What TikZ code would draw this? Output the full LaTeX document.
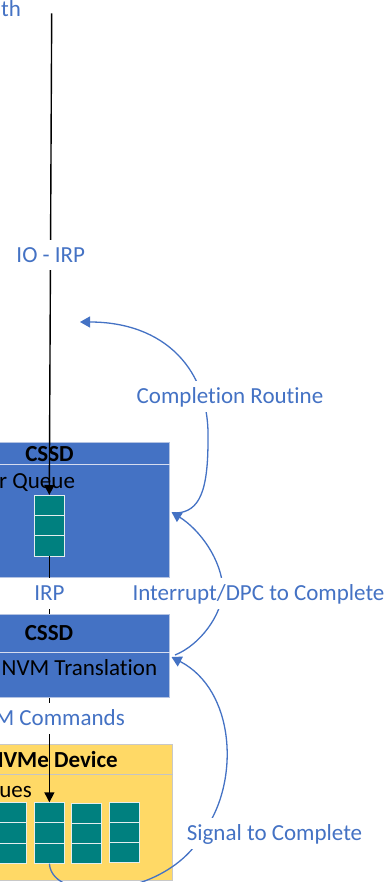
\documentclass[tikz,border=0pt]{standalone}
\usepackage{fontspec}
\setmainfont[Ligatures={NoCommon}]{Carlito}
\usetikzlibrary{arrows.meta,calc}
\definecolor{boxblue}{HTML}{4472C4}
\definecolor{boxedge}{HTML}{B4C3E2}
\definecolor{hdrblue}{HTML}{D6DCEF}
\definecolor{devyellow}{HTML}{FFD966}
\definecolor{devedge}{HTML}{C8C8C8}
\definecolor{devhdr}{HTML}{C4C4C4}
\definecolor{qteal}{HTML}{00807F}
\definecolor{qedge}{HTML}{E4EEEE}
\definecolor{lblblue}{HTML}{4472C4}
\begin{document}
\begin{tikzpicture}[x=1pt,y=-1pt,
  font=\fontsize{23}{28}\selectfont,
  blkbox/.style={draw=boxedge, fill=boxblue, line width=0.8pt, inner sep=0pt},
  devbox/.style={draw=devedge, fill=devyellow, line width=0.8pt, inner sep=0pt},
  queue/.style={draw=qedge, fill=qteal, line width=0.9pt, inner sep=0pt,
                minimum width=30pt, minimum height=60.5pt},
  qsep/.style={qedge, line width=0.9pt},
  hdrtxt/.style={font=\fontsize{23}{28}\selectfont\bfseries, text=black, inner sep=0pt},
  boxtxt/.style={text=black, inner sep=0pt},
  lbl/.style={text=lblblue, fill=white, inner xsep=2pt, inner ysep=6.5pt,
              text height=15.5pt, text depth=2pt},
  flow/.style={black, line width=1.4pt, -{Triangle[length=10pt,width=10pt]}},
  flowplain/.style={black, line width=1.4pt},
  ret/.style={lblblue, line width=1.3pt, -{Triangle[length=10pt,width=11pt]}}
]
\useasboundingbox (0,0) rectangle (388,882);
\clip (0,0) rectangle (388,882);

% boxes
\node[blkbox, minimum width=190pt, minimum height=135pt, anchor=north east] (box1) at (170,441.7) {};
\draw[hdrblue, line width=0.8pt] (-20,464.7) -- (170,464.7);
\node[blkbox, minimum width=190pt, minimum height=83pt, anchor=north east] (box2) at (170,614) {};
\draw[hdrblue, line width=0.8pt] (-20,652) -- (170,652);
\node[devbox, minimum width=193pt, minimum height=136pt, anchor=north east] (box3) at (172.7,744) {};
\draw[devhdr, line width=0.8pt] (-20,774) -- (172.7,774);

% box texts
\node[hdrtxt, anchor=base] (t1) at (49.5,461) {CSSD};
\node[boxtxt, anchor=base west] (t2) at (-1,488) {r Queue};
\node[hdrtxt, anchor=base] (t3) at (49,640) {CSSD};
\node[boxtxt, anchor=base west] (t4) at (1.5,675) {NVM Translation};
\node[hdrtxt, anchor=base east] (t5) at (118,767) {NVMe Device};
\node[boxtxt, anchor=base east] (t6) at (32,797) {ues};

% queues
\node[queue] (q1) at (49.3,525.7) {};
\node[queue] (q2a) at (11.7,833) {};
\node[queue] (q2b) at (49.4,833) {};
\node[queue] (q2c) at (86.7,833.5) {};
\node[queue] (q2d) at (124,832.5) {};
\foreach \q in {q1,q2a,q2b,q2c,q2d}{
  \draw[qsep] ($(\q.north west)!1/3!(\q.south west)$) -- ($(\q.north east)!1/3!(\q.south east)$);
  \draw[qsep] ($(\q.north west)!2/3!(\q.south west)$) -- ($(\q.north east)!2/3!(\q.south east)$);
}

% main flow
\coordinate (ctop) at (51.7,13.3);
\draw[flow] (ctop) -- (q1.north);
\draw[flowplain] (q1.south) -- (q1.south |- box2.north);
\draw[flow] (q2b.north |- box2.south) -- (q2b.north);

% return curves
\coordinate (b1in) at (171.5,512);
\coordinate (b1out) at (176,513);
\coordinate (b2in) at (171.5,657);
\coordinate (b2out) at (175,655);
\coordinate (crend) at (80,322);
\draw[ret] (b1out) .. controls (200,512) and (208,490) .. (208,440)
                   .. controls (210,370) and (165,322) .. (crend);
\draw[ret] (b2out) .. controls (200,645) and (222,615) .. (223,590)
                   .. controls (222,560) and (200,530) .. (b1in);
\draw[ret] (q2b.south) .. controls (52,905) and (170,900) .. (205,830)
                       .. controls (240,780) and (235,690) .. (b2in);

% labels
\node[text=lblblue, anchor=base west, inner sep=0pt] (lth) at (1,17) {th};
\node[lbl, anchor=base] (lio) at (50.8,262) {IO - IRP};
\node[lbl, anchor=base] (lirp) at (49.5,600) {IRP};
\node[lbl, anchor=base east] (lnvm) at (127,725) {M Commands};
\node[lbl, anchor=base] (lcr) at (230,403) {Completion Routine};
\node[lbl, anchor=base] (lint) at (258.5,600) {Interrupt/DPC to Complete};
\node[lbl, anchor=base] (lsig) at (274.5,840) {Signal to Complete};
\end{tikzpicture}
\end{document}
